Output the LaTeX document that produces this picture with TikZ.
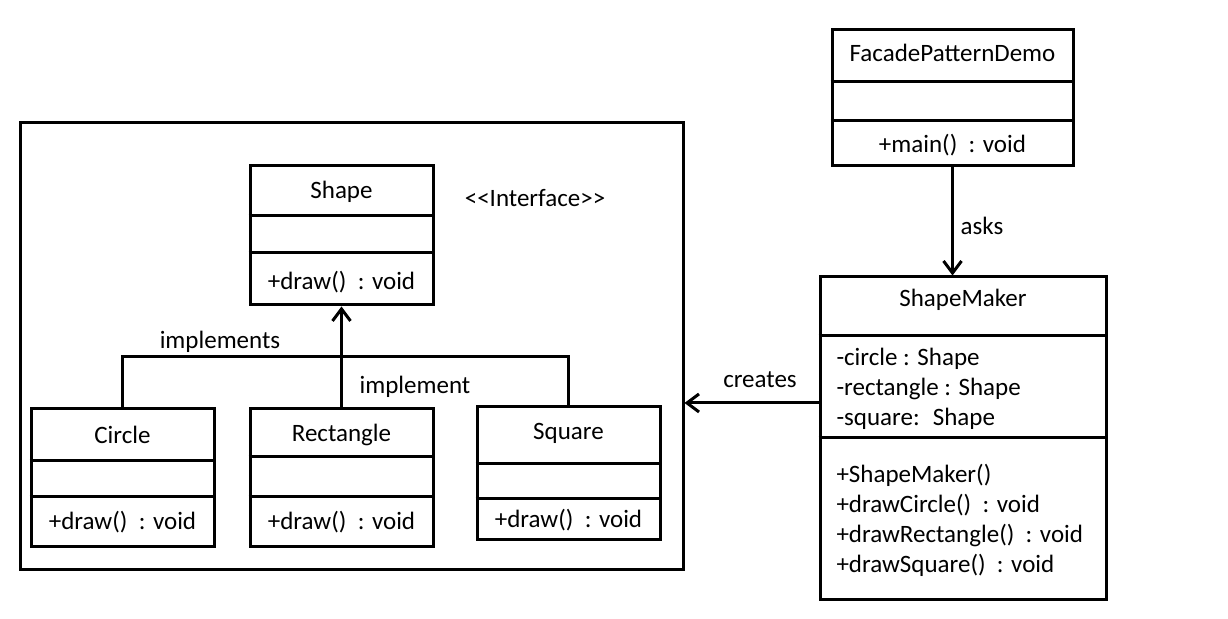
\documentclass[tikz,border=0pt]{standalone}
\usepackage{fontspec}
\setmainfont{Carlito}
\usetikzlibrary{positioning,arrows.meta,fit}
\tikzset{
>={Straight Barb[length=6pt,width=9pt]},
umlbox/.style={draw, rectangle, inner sep=0pt},
lbl/.style={font=\fontsize{12.5}{15}\selectfont, inner sep=0pt},
members/.style={lbl, anchor=west, align=left},
}

\begin{document}
\begin{tikzpicture}[x=0.5pt,y=-0.5pt,line width=1.5pt]
    \useasboundingbox (0,0) rectangle (1228,619);

    % package frame
    \node[umlbox, fit={(20,123) (683,570)}] (pkg) {};

    % interface
    \node[umlbox, fit={(250,166) (433,305)}] (shape) {};
    \draw (shape.west |- 0,216) -- (shape.east |- 0,216);
    \draw (shape.west |- 0,253) -- (shape.east |- 0,253);
    \node[lbl] (shapename) at (341.5,192) {Shape};
    \node[lbl] (shapeop) at (341.5,282) {+draw()~ : void};
    \node[lbl] (iface) at (535,198) {{<}{<}Interface{>}{>}};

    % concrete shapes
    \node[umlbox, fit={(31,409) (214,547)}] (circle) {};
    \draw (circle.west |- 0,461) -- (circle.east |- 0,461);
    \draw (circle.west |- 0,497) -- (circle.east |- 0,497);
    \node[lbl] (circlename) at (122.5,435) {Circle};
    \node[lbl] (circleop) at (122.5,522) {+draw()~ : void};

    \node[umlbox, fit={(250,409) (433,547)}] (rect) {};
    \draw (rect.west |- 0,457) -- (rect.east |- 0,457);
    \draw (rect.west |- 0,497) -- (rect.east |- 0,497);
    \node[lbl] (rectname) at (341.5,435) {Rectangle};
    \node[lbl] (rectop) at (341.5,522) {+draw()~ : void};

    \node[umlbox, fit={(477,407) (660,540)}] (square) {};
    \draw (square.west |- 0,464) -- (square.east |- 0,464);
    \draw (square.west |- 0,499) -- (square.east |- 0,499);
    \node[lbl] (squarename) at (568.5,433) {Square};
    \node[lbl] (squareop) at (568.5,520) {+draw()~ : void};

    % client
    \node[umlbox, fit={(832,30) (1073,166)}] (demo) {};
    \draw (demo.west |- 0,82) -- (demo.east |- 0,82);
    \draw (demo.west |- 0,121) -- (demo.east |- 0,121);
    \node[lbl] (demoname) at (952.5,53) {FacadePatternDemo};
    \node[lbl] (demoop) at (952.5,145) {+main()~ : void};

    % facade
    \node[umlbox, fit={(820,277) (1106,600)}] (maker) {};
    \draw (maker.west |- 0,336) -- (maker.east |- 0,336);
    \draw (maker.west |- 0,438) -- (maker.east |- 0,438);
    \node[lbl] (makername) at (963,300) {ShapeMaker};
    \node[members] (makerattr) at (835,388.5) {-circle : Shape\\-rectangle : Shape\\-square:~ Shape};
    \node[members] (makerops) at (835,520.5) {+ShapeMaker()\\+drawCircle()~ : void\\+drawRectangle()~ : void\\+drawSquare()~ : void};

    % relations
    \coordinate (junc) at (341.5,357);
    \draw (circle.north) |- (junc) -| (square.north);
    \draw[->] (rect.north) -- (shape.south);
    \node[lbl] (impls) at (220,342) {implements};
    \node[lbl] (impl) at (415,387) {implement};

    \draw[->] (demo.south) -- (demo.south |- maker.north);
    \node[lbl] (asks) at (982,226) {asks};

    \draw[->] (maker.west |- 0,403) -- (pkg.east |- 0,403);
    \node[lbl] (creates) at (760,380) {creates};

\end{tikzpicture}
\end{document}
